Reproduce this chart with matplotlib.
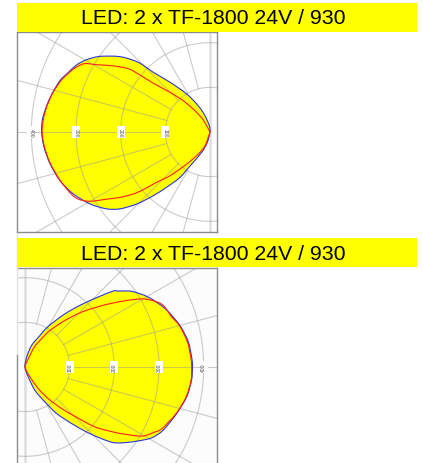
from matplotlib import pyplot as plt
from matplotlib.patches import PathPatch, Rectangle
from matplotlib.path import Path
import numpy as np

plt.rcParams['font.family'] = ['Liberation Sans', 'DejaVu Sans']

W = 423
H = 464
PX_PER_CD = 0.4467

TITLE = "LED: 2 x TF-1800 24V / 930"
RINGS = [100, 200, 300, 400]
RAY_ANGLES = [0, 15, 30, 45, 60, 75]

# angle from the beam axis in degrees, intensity in cd
top_blue_up_ang = [0, 4.4, 8.6, 13.5, 18.9, 22.8, 26.8, 30.4, 34, 37.2, 39.9, 41.9, 44.5, 46.5, 51.2, 58.5, 66, 73, 83.7, 90]
top_blue_up_val = [377, 376, 371, 364, 355, 344, 334, 320, 302, 281, 263, 246, 220, 184, 143, 100, 64, 38, 14, 0]
top_red_up_ang = [0, 4.5, 8.7, 13.8, 19, 23, 26.1, 28.7, 30.7, 34.4, 37.8, 39, 40.7, 44.8, 49.5, 54.8, 60.8, 61.7, 90]
top_red_up_val = [376, 374, 370, 363, 353, 342, 332, 319, 295, 262, 231, 206, 167, 126, 92, 58, 31, 3, 0]
top_blue_dn_ang = [0, 5.3, 11.3, 18, 24.4, 31, 36.7, 40.5, 44.5, 48.3, 51.9, 56.5, 60.2, 67.8, 75.3, 90]
top_blue_dn_val = [377, 373, 365, 353, 336, 313, 288, 265, 230, 191, 157, 122, 83, 49, 24, 0]
top_red_dn_ang = [0, 5.3, 11.4, 18.7, 25.8, 29.7, 33, 36, 38.9, 40.9, 43.3, 47.5, 54, 62, 70, 90]
top_red_dn_val = [376, 372, 364, 351, 336, 313, 276, 249, 221, 197, 164, 133, 89, 56, 33, 0]

bot_blue_up_ang = [0, 2.9, 8.7, 15, 22.6, 29.6, 35.3, 39.2, 40.7, 43.7, 47.8, 53.1, 60.2, 64.6, 72.8, 80.4, 90]
bot_blue_up_val = [375, 374, 370, 359, 340, 317, 293, 269, 261, 227, 189, 149, 105, 78, 51, 23, 0]
bot_red_up_ang = [0, 2.9, 8.7, 15, 18.8, 24.6, 29.5, 33.2, 37.5, 40.3, 44.1, 49.4, 55.7, 59.5, 65, 68, 90]
bot_red_up_val = [373, 372, 368, 358, 347, 337, 309, 272, 230, 205, 177, 137, 99, 74, 49, 20, 0]
bot_blue_dn_ang = [0, 4.6, 10.5, 17.1, 24.6, 29.2, 33.1, 37.6, 40.6, 43.1, 46.5, 50.5, 55.8, 60.3, 66.9, 71.7, 90]
bot_blue_dn_val = [375, 374, 368, 355, 340, 325, 303, 278, 260, 235, 201, 164, 126, 90, 57, 24, 0]
bot_red_dn_ang = [0, 4.6, 10.5, 17.1, 24.3, 26.6, 30.6, 34.6, 36.4, 39.8, 41.9, 44.7, 48.6, 53.7, 58.5, 63.4, 90]
bot_red_dn_val = [373, 373, 367, 354, 336, 325, 304, 263, 245, 214, 190, 157, 124, 88, 57, 25, 0]


def outline(ang_up, val_up, ang_dn, val_dn, side):
    ang = np.radians(np.r_[ang_up[::-1], -np.array(ang_dn[1:-1])])
    val = np.r_[val_up[::-1], val_dn[1:-1]]
    return np.c_[side * val * np.cos(ang), val * np.sin(ang)]


# closed bezier path through the read points, so the curve is not faceted
def smooth_path(pts):
    prev_p = np.roll(pts, 1, axis=0)
    next_p = np.roll(pts, -1, axis=0)
    next2_p = np.roll(pts, -2, axis=0)
    verts = [pts[0]]
    codes = [Path.MOVETO]
    for p0, p1, p2, p3 in zip(prev_p, pts, next_p, next2_p):
        verts += [p1 + (p2 - p0) / 7, p2 - (p3 - p1) / 7, p2]
        codes += [Path.CURVE4] * 3
    return Path(verts, codes)


def panel(box, cx, cy, side, blue, red, rotation, face, title_y):
    left, top, right, bottom = box
    ax = fig.add_axes([left / W, 1 - bottom / H, (right - left) / W, (bottom - top) / H])
    ax.set_xlim((left - cx) / PX_PER_CD, (right - cx) / PX_PER_CD)
    ax.set_ylim((cy - bottom) / PX_PER_CD, (cy - top) / PX_PER_CD)
    ax.set_facecolor(face)
    ax.set_xticks([])
    ax.set_yticks([])
    for s in ax.spines.values():
        s.set_color('#8c8c8c')
        s.set_linewidth(1.0)

    blue_path = smooth_path(outline(*blue, side))
    red_path = smooth_path(outline(*red, side))
    ax.add_patch(PathPatch(blue_path, facecolor='#ffff00', edgecolor='none', zorder=1))

    t = np.radians(np.linspace(0, 360, 361))
    for r in RINGS:
        ax.plot(r * np.cos(t), r * np.sin(t), color='#999999', alpha=0.5, lw=0.8, zorder=2)
    for a in RAY_ANGLES:
        c, s = np.cos(np.radians(a)), np.sin(np.radians(a))
        for sign in ([1] if a == 0 else [1, -1]):
            ax.plot([side * 100 * c, side * 600 * c], [sign * 100 * s, sign * 600 * s],
                    color='#999999', alpha=0.5, lw=0.8, zorder=2)
    # the 90 degree axis is a wide pale band
    ax.plot([0, 0], [-600, 600], color='#999999', alpha=0.3, lw=1.8, zorder=2)

    ax.add_patch(PathPatch(blue_path, facecolor='none', edgecolor='#2a35e0', lw=0.8, zorder=3))
    ax.add_patch(PathPatch(red_path, facecolor='none', edgecolor='#ff1f1f', lw=0.8, zorder=4))

    for r in RINGS:
        ax.text(side * r, 0, str(r), rotation=rotation, ha='center', va='center',
                fontsize=3.6, color='#444444', zorder=5,
                bbox=dict(facecolor='white', edgecolor='none', pad=1.0))

    fig.patches.append(Rectangle((17 / W, 1 - (title_y + 29) / H), 400 / W, 29 / H,
                                 transform=fig.transFigure, facecolor='#ffff00',
                                 edgecolor='none', zorder=5, figure=fig))
    fig.text(213 / W, 1 - (title_y + 15) / H, TITLE, ha='center', va='center',
             fontsize=15.35, color='black', zorder=6)
    return ax


fig = plt.figure(figsize=(W / 100, H / 100), dpi=100)

panel((17, 33, 217, 233), 210, 133, -1,
      (top_blue_up_ang, top_blue_up_val, top_blue_dn_ang, top_blue_dn_val),
      (top_red_up_ang, top_red_up_val, top_red_dn_ang, top_red_dn_val),
      -90, 'white', 4)

ax2 = panel((17, 269, 217, 470), 25, 368, 1,
            (bot_blue_up_ang, bot_blue_up_val, bot_blue_dn_ang, bot_blue_dn_val),
            (bot_red_up_ang, bot_red_up_val, bot_red_dn_ang, bot_red_dn_val),
            90, '#fcfcfc', 239)
# left border of the lower panel is only dark below the axis, faint above it
ax2.spines['left'].set_bounds(-300, 28)
ax2.plot([ax2.get_xlim()[0]] * 2, [28, 300], color='#e4e4e4', lw=1.0, clip_on=False, zorder=6)

fig.savefig('out.png', dpi=100)
